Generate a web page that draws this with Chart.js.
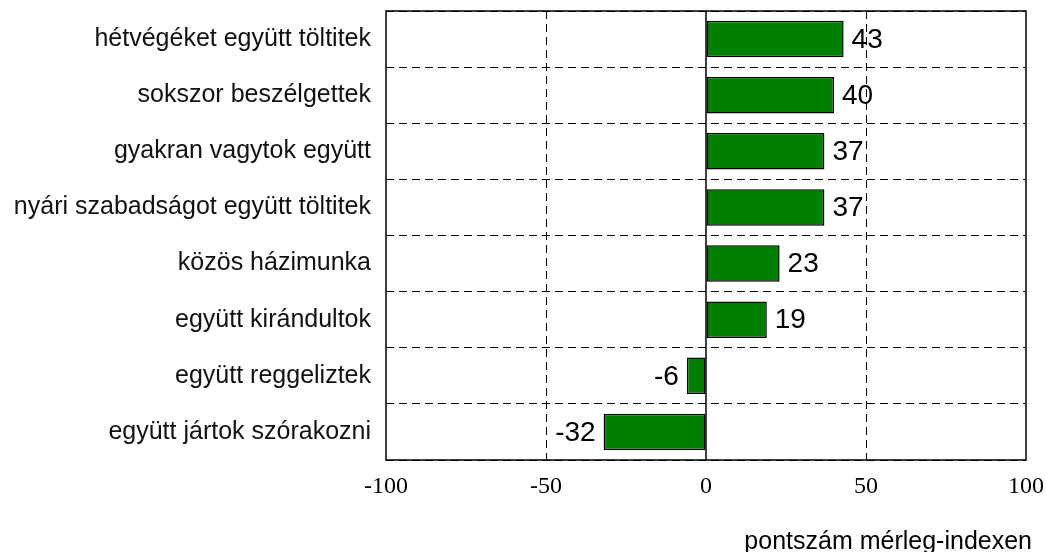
<!DOCTYPE html>
<html>
<head>
<meta charset="utf-8">
<script src="https://cdn.jsdelivr.net/npm/chart.js@4/dist/chart.umd.min.js"></script>
<style>
    body { margin: 0; background: #fff; }
    canvas { display: block; }
</style>
</head>
<body>
<canvas id="grafico" width="1046" height="552"></canvas>
<script>
const categorias = [
    'hétvégéket együtt töltitek',
    'sokszor beszélgettek',
    'gyakran vagytok együtt',
    'nyári szabadságot együtt töltitek',
    'közös házimunka',
    'együtt kirándultok',
    'együtt reggeliztek',
    'együtt jártok szórakozni'
];
const valores = [43, 40, 37, 37, 23, 19, -6, -32];
const ticksX = [-100, -50, 0, 50, 100];
const tituloX = 'pontszám mérleg-indexen';

const sans = "'Liberation Sans', Arial, sans-serif";
const serif = "'Liberation Serif', 'Times New Roman', serif";

// frame, zero line, value labels and axis title
const extras = {
    id: 'extras',
    afterDatasetsDraw(chart) {
        const ctx = chart.ctx;
        const area = chart.chartArea;
        const x = chart.scales.x;
        const meta = chart.getDatasetMeta(0);

        ctx.save();
        ctx.strokeStyle = '#000';
        ctx.lineWidth = 1.5;
        ctx.setLineDash([]);
        ctx.strokeRect(area.left, area.top, area.right - area.left, area.bottom - area.top);

        const x0 = x.getPixelForValue(0);
        ctx.beginPath();
        ctx.moveTo(x0, area.top);
        ctx.lineTo(x0, area.bottom);
        ctx.stroke();

        ctx.fillStyle = '#000';
        ctx.font = '28px ' + sans;
        ctx.textBaseline = 'middle';
        meta.data.forEach((bar, i) => {
            const v = valores[i];
            if (v >= 0) {
                ctx.textAlign = 'left';
                ctx.fillText(String(v), bar.x + 8, bar.y + 1);
            } else {
                ctx.textAlign = 'right';
                ctx.fillText(String(v), bar.x - 8, bar.y + 1);
            }
        });

        ctx.font = '25px ' + sans;
        ctx.textAlign = 'right';
        ctx.textBaseline = 'alphabetic';
        ctx.fillText(tituloX, 1032, 549);
        ctx.restore();
    }
};

new Chart(document.getElementById('grafico').getContext('2d'), {
    type: 'bar',
    data: {
        labels: categorias,
        datasets: [{
            data: valores,
            backgroundColor: '#008000',
            borderColor: '#000',
            borderWidth: 1.5,
            borderSkipped: false,
            barPercentage: 0.65,
            categoryPercentage: 1
        }]
    },
    options: {
        indexAxis: 'y',
        responsive: false,
        animation: false,
        layout: { padding: { top: 11, right: 20, left: 0, bottom: 0 } },
        plugins: {
            legend: { display: false },
            tooltip: { enabled: false }
        },
        scales: {
            x: {
                type: 'linear',
                min: -100,
                max: 100,
                afterBuildTicks: (scale) => {
                    scale.ticks = ticksX.map(v => ({ value: v }));
                },
                afterFit: (scale) => {
                    scale.height = 92;
                    scale.paddingLeft = 0;
                    scale.paddingRight = 0;
                },
                grid: {
                    drawTicks: false,
                    color: (c) => (c.tick && (c.tick.value === -50 || c.tick.value === 50)) ? '#000' : 'rgba(0,0,0,0)',
                    lineWidth: 1
                },
                border: { display: false, dash: [8, 5] },
                ticks: {
                    color: '#000',
                    padding: 12,
                    font: { family: serif, size: 24 }
                }
            },
            y: {
                afterFit: (scale) => {
                    scale.width = 386;
                    scale.paddingTop = 0;
                    scale.paddingBottom = 0;
                },
                grid: {
                    drawTicks: false,
                    offset: true,
                    color: '#000',
                    lineWidth: 1
                },
                border: { display: false, dash: [8, 5] },
                ticks: {
                    color: '#111',
                    padding: 15,
                    font: { family: sans, size: 25 }
                }
            }
        }
    },
    plugins: [extras]
});
</script>
</body>
</html>
